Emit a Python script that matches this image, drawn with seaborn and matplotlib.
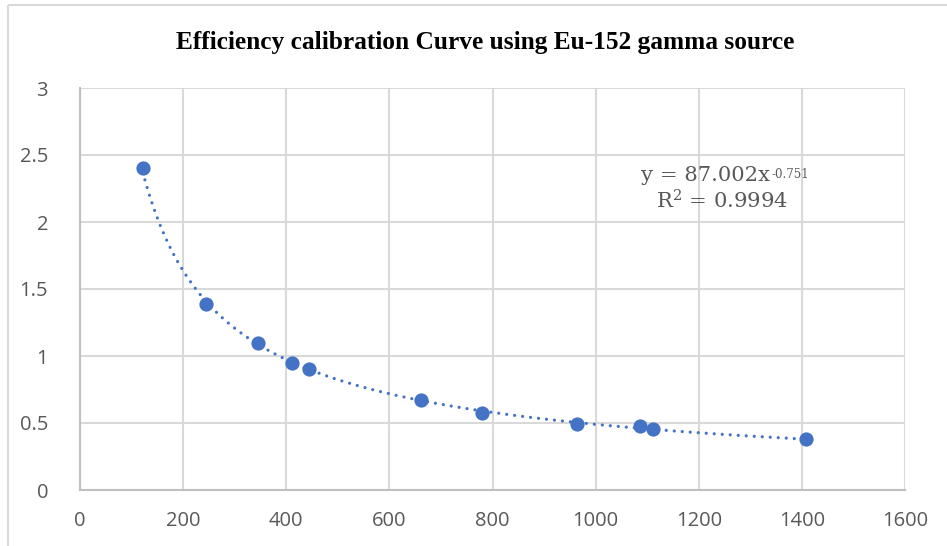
import numpy as np
import pandas as pd
import matplotlib
matplotlib.use("Agg")
import matplotlib.pyplot as plt
import seaborn as sns
from matplotlib.patches import Rectangle

# ---------------- DATA ----------------
energy_kev = [121.8, 244.7, 344.3, 411.1, 444.0, 661.7, 778.9, 964.1, 1085.8, 1112.1, 1408.0]
efficiency = [2.40, 1.385, 1.10, 0.95, 0.90, 0.672, 0.573, 0.492, 0.477, 0.455, 0.38]
x_ticks = [0, 200, 400, 600, 800, 1000, 1200, 1400, 1600]
y_ticks = [0, 0.5, 1, 1.5, 2, 2.5, 3]
y_tick_labels = ["0", "0.5", "1", "1.5", "2", "2.5", "3"]
title = "Efficiency calibration Curve using Eu-152 gamma source"
eq_main = "y = 87.002x"
eq_exp = "-0.751"
r2_text = r"R$^{2}$ = 0.9994"

BLUE = "#4472C4"
GRID = "#d9d9d9"
TXT = "#595959"

df = pd.DataFrame({"energy": energy_kev, "eff": efficiency})

sns.set_theme(style="white")
plt.rcParams["font.family"] = ["Open Sans", "DejaVu Sans"]
plt.rcParams["mathtext.fontset"] = "dejavuserif"

fig = plt.figure(figsize=(9.47, 5.46), dpi=100)
ax = fig.add_axes([80 / 947, 1 - 490 / 546, 825 / 947, 402 / 546])

# outer chart border (light gray, cut at right/bottom like the source)
fig.patches.append(Rectangle((8 / 947, 1 - 5 / 546), 2, -2, transform=fig.transFigure,
                             fill=False, edgecolor=GRID, linewidth=1.5))

# power trendline fitted in log-log space
coef = np.polyfit(np.log(df["energy"]), np.log(df["eff"]), 1)
xs = np.linspace(df["energy"].min(), df["energy"].max(), 300)
ys = np.exp(coef[1]) * xs ** coef[0]
ax.plot(xs, ys, color=BLUE, linewidth=2.3, linestyle=(0, (0.01, 2.5)),
        dash_capstyle="round", zorder=2)

sns.scatterplot(data=df, x="energy", y="eff", color=BLUE, s=105, edgecolor=BLUE,
                linewidth=0, ax=ax, zorder=3)

ax.set_xlim(0, 1600)
ax.set_ylim(0, 3)
ax.set_xticks(x_ticks)
ax.set_yticks(y_ticks)
ax.set_yticklabels(y_tick_labels)
ax.grid(True, color=GRID, linewidth=1.5)
ax.set_axisbelow(True)
for side in ["top", "right"]:
    ax.spines[side].set_visible(False)
for side in ["left", "bottom"]:
    ax.spines[side].set_color("#bfbfbf")
    ax.spines[side].set_linewidth(1.5)
ax.tick_params(axis="both", length=0, labelsize=14.5, colors=TXT, pad=15)
ax.tick_params(axis="y", pad=23)
ax.set_xlabel("")
ax.set_ylabel("")

fig.text(485 / 947, 1 - 42 / 546, title, ha="center", va="center",
         fontsize=18.3, fontweight="bold", family=["Liberation Serif", "DejaVu Serif"],
         color="black")

# trendline label
eq = ax.text(1214, 2.35, eq_main, ha="center", va="center", fontsize=15.2,
             family="DejaVu Serif", color=TXT)
ax.annotate(eq_exp, xy=(1, 1), xycoords=eq, xytext=(0.5, -1.5), textcoords="offset points",
            ha="left", va="top", fontsize=8.5, family="DejaVu Serif", color=TXT)
ax.text(1246, 2.16, r2_text, ha="center", va="center", fontsize=15.2,
        family="DejaVu Serif", color=TXT)

fig.savefig("out.png", dpi=100)
